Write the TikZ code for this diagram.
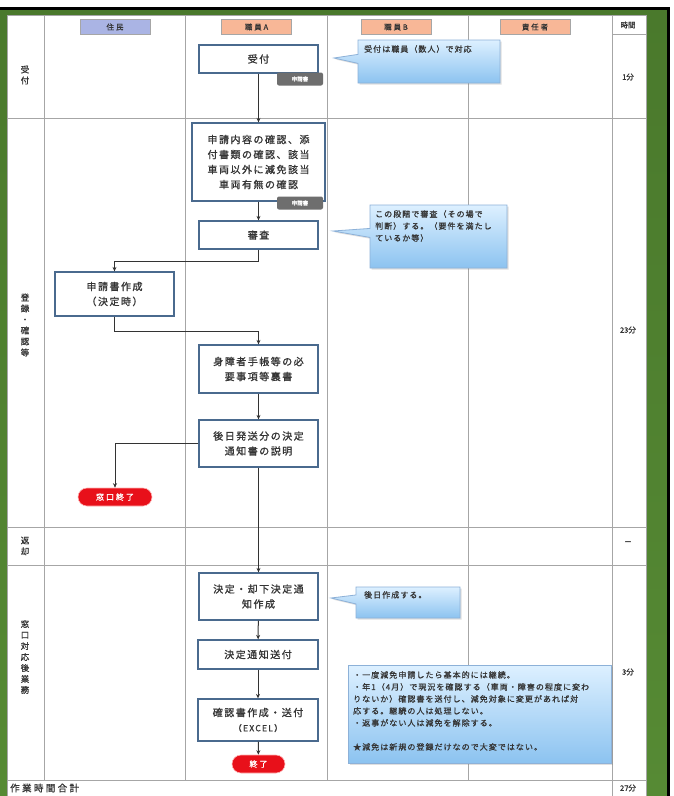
\documentclass[tikz,border=0pt]{standalone}
\usepackage{fontspec}
\setmainfont{Noto Sans CJK JP}
\newfontfamily\jpbox[LetterSpace=15,FakeBold=1.2]{Noto Sans CJK JP}
\newfontfamily\jpnote[LetterSpace=13,FakeBold=1]{Noto Sans CJK JP}
\newfontfamily\jpwide[LetterSpace=25,FakeBold=1]{Noto Sans CJK JP}
\newfontfamily\jpsemi[FakeBold=1]{Noto Sans CJK JP}
\usetikzlibrary{arrows.meta,shapes.callouts,shadows}

\definecolor{frameDark}{HTML}{4A792C}
\definecolor{frameLight}{HTML}{C3DCA8}
\definecolor{frameDarkB}{HTML}{568A34}
\definecolor{gridgray}{HTML}{A6A6A6}
\definecolor{boxblue}{HTML}{4A6A8E}
\definecolor{txtgray}{HTML}{353535}
\definecolor{headBlue}{HTML}{AAB4E4}
\definecolor{headSalmon}{HTML}{F8B797}
\definecolor{noteTop}{HTML}{DDF0FF}
\definecolor{noteBottom}{HTML}{8CC3F0}
\definecolor{noteEdge}{HTML}{8DB1D8}
\definecolor{endRed}{HTML}{E8101A}
\definecolor{tagGray}{HTML}{6E6E6E}

\begin{document}
\begin{tikzpicture}[x=1pt,y=-1pt,
  grid/.style={draw=gridgray, line width=0.8pt},
  head/.style={draw=gridgray, line width=0.6pt, minimum width=70pt, minimum height=15pt,
    inner sep=0pt, font=\jpwide\fontsize{7.5}{9}\selectfont, text=txtgray},
  flowbox/.style={draw=boxblue, line width=1.3pt, fill=white, minimum width=119pt,
    align=center, inner sep=2pt, font=\jpbox\fontsize{10}{15}\selectfont, text=txtgray,
    drop shadow={opacity=0.18, shadow xshift=1pt, shadow yshift=-1pt}},
  flow/.style={draw=black!80, line width=1pt, -{Stealth[length=4.5pt,width=4pt]}},
  pill/.style={fill=endRed, draw=red!30, line width=0.6pt, rounded corners=9pt,
    minimum height=18pt, inner sep=0pt, text=white,
    font=\jpwide\fontsize{8}{9}\selectfont},
  tag/.style={fill=tagGray, rounded corners=2pt, minimum width=46pt, minimum height=13pt,
    inner sep=0pt, text=white, font=\jpsemi\fontsize{5.5}{6}\selectfont},
  note/.style={draw=noteEdge, line width=0.8pt, top color=noteTop, bottom color=noteBottom,
    drop shadow={opacity=0.25, shadow xshift=1.5pt, shadow yshift=-1.5pt}},
  callout/.style={note, rectangle callout, callout pointer width=9pt, inner sep=0pt},
  notetext/.style={anchor=north west, align=left, inner sep=0pt, text=txtgray,
    font=\jpnote\fontsize{8}{12}\selectfont},
  lanelabel/.style={align=center, inner sep=0pt, text=txtgray,
    font=\jpsemi\fontsize{8.5}{11}\selectfont},
  timelabel/.style={inner sep=0pt, text=txtgray, font=\jpsemi\fontsize{7.5}{9}\selectfont}
]
\useasboundingbox (0,0) rectangle (674,796);

% page and green frame
\fill[white] (0,0) rectangle (674,796);
\shade[top color=frameDark, middle color=frameLight, bottom color=frameDarkB]
  (0,10) rectangle (667,796);
\fill[black] (0,7) rectangle (670,10);
\fill[black] (667,7) rectangle (670,796);
\fill[white] (7,15) rectangle (646,796);

% table grid
\draw[grid] (7,15) rectangle (646,796);
\foreach \xx in {44,185,327,468} \draw[grid] (\xx,15) -- (\xx,780);
\draw[grid] (612,15) -- (612,796);
\foreach \yy in {118,527,565,780} \draw[grid] (7,\yy) -- (646,\yy);
\draw[grid] (612,34) -- (646,34);

% lane headers
\node[head, fill=headBlue]   (hResident) at (115,27) {住民};
\node[head, fill=headSalmon] (hStaffA)   at (256.5,27) {職員A};
\node[head, fill=headSalmon] (hStaffB)   at (396,27) {職員B};
\node[head, fill=headSalmon] (hChief)    at (535,27) {責任者};
\node[timelabel] (hTime) at (628,25) {時間};

% phase labels
\node[lanelabel] (pReception) at (25,75)  {受\\付};
\node[lanelabel] (pRegister)  at (25,325) {登\\録\\・\\確\\認\\等};
\node[lanelabel] (pReturn)    at (25,546) {返\\却};
\node[lanelabel] (pAfter)     at (25,657) {窓\\口\\対\\応\\後\\業\\務};

% times
\node[timelabel] (t1) at (628,77)  {1分};
\node[timelabel] (t2) at (628,330) {23分};
\node[timelabel] (t3) at (628,543) {－};
\node[timelabel] (t4) at (628,672) {3分};
\node[timelabel] (t5) at (628,788) {27分};
\node[timelabel, anchor=west, font=\jpwide\fontsize{9.5}{11}\selectfont] (total) at (10,788) {作業時間合計};

% process boxes
\node[flowbox, minimum height=28pt] (uketsuke) at (258.5,59) {受付};
\node[flowbox, minimum width=133pt, minimum height=78pt] (kakunin) at (258.5,162)
  {申請内容の確認、添\\付書類の確認、該当\\車両以外に減免該当\\車両有無の確認};
\node[flowbox, minimum height=28pt] (shinsa) at (258.5,235) {審査};
\node[flowbox, minimum height=44pt] (sakusei) at (114.5,294) {申請書作成\\（決定時）};
\node[flowbox, minimum height=48pt] (urakaki) at (258.5,369) {身障者手帳等の必\\要事項等裏書};
\node[flowbox, minimum height=47pt] (setsumei) at (258.5,443.5) {後日発送分の決定\\通知書の説明};
\node[flowbox, minimum height=47pt] (kettei) at (258.5,596.5) {決定・却下決定通\\知作成};
\node[flowbox, minimum width=120pt, minimum height=29pt] (soufu) at (258,654.5) {決定通知送付};
\node[flowbox, minimum width=120pt, minimum height=42pt] (kakuninsho) at (258,720)
  {確認書作成・送付\\{\fontsize{8.5}{12}\selectfont（EXCEL）}};

% terminators
\node[pill, minimum width=74pt] (endDesk) at (115,497) {窓口終了};
\node[pill, minimum width=53pt] (endAll) at (258.5,764) {終了};

% connectors
\draw[flow] (uketsuke) -- (kakunin);
\draw[flow] (kakunin) -- (shinsa);
\draw[flow] (shinsa.south) -- ++(0,12) -| (sakusei.north);
\draw[flow] (sakusei.south) -- ++(0,15) -| (urakaki.north);
\draw[flow] (urakaki) -- (setsumei);
\draw[flow] (setsumei.west) -| (endDesk.north);
\draw[flow] (setsumei) -- (kettei);
\draw[flow] (kettei) -- (soufu);
\draw[flow] (soufu) -- (kakuninsho);
\draw[flow] (kakuninsho) -- (endAll);

% document tags
\node[tag] (tagA) at (300,79)  {申請書};
\node[tag] (tagB) at (300,203) {申請書};

% notes
\node[callout, minimum width=142pt, minimum height=43pt,
  callout absolute pointer={(334,58)}] (note1) at (429,61.5) {};
\node[notetext] (note1t) at (364,45) {受付は職員（数人）で対応};

\node[callout, minimum width=137pt, minimum height=63pt,
  callout absolute pointer={(333,231)}] (note2) at (438.5,236.5) {};
\node[notetext] (note2t) at (375,210)
  {この段階で審査（その場で\\判断）する。（要件を満たし\\ているか等）};

\node[callout, minimum width=104pt, minimum height=31pt,
  callout absolute pointer={(331,598)}] (note3) at (408,602.5) {};
\node[notetext] (note3t) at (364,591) {後日作成する。};

\node[note, rectangle, minimum width=263pt, minimum height=98pt, inner sep=0pt]
  (note4) at (479.5,714) {};
\node[notetext] (note4t) at (353,671)
  {・一度減免申請したら基本的には継続。\\
   ・年1（4月）で現況を確認する（車両・障害の程度に変わ\\
   りないか）確認書を送付し、減免対象に変更があれば対\\
   応する。継続の人は処理しない。\\
   ・返事がない人は減免を解除する。\\[12pt]
   ★減免は新規の登録だけなので大変ではない。};
\end{tikzpicture}
\end{document}
